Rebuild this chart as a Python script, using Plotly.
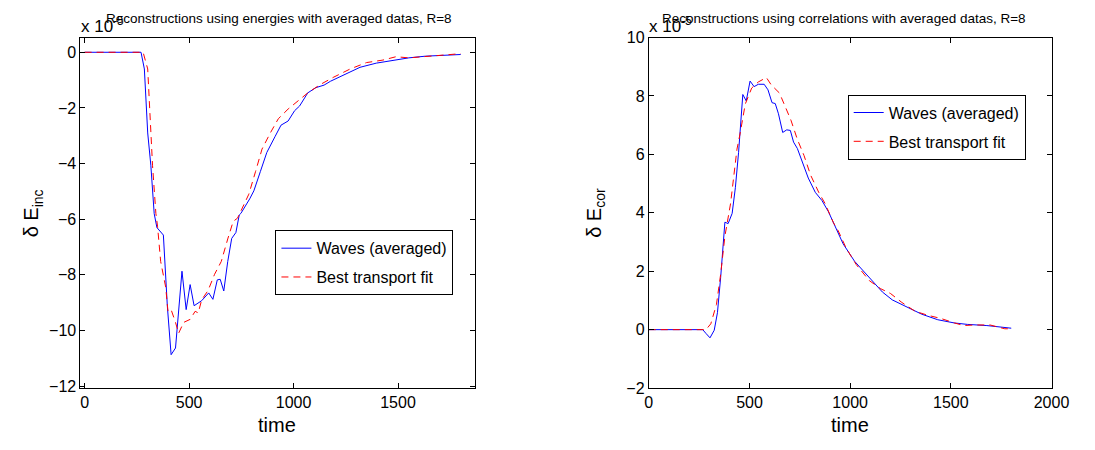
import plotly.graph_objects as go

# ---- data (units of 1e-5) ----
inc_wave_t = [0, 270, 286, 302, 317, 333, 346, 377, 396, 414, 435, 466, 486, 505, 524, 560, 594, 614, 635, 649,
              666, 685, 704, 724, 740, 748, 790, 810, 841, 872, 912, 940, 974, 1005, 1029, 1068, 1107, 1146,
              1177, 1240, 1318, 1396, 1475, 1552, 1631, 1709, 1800]
inc_wave_v = [0, 0, -0.6, -2.9, -4.06, -5.8, -6.3, -6.57, -9.13, -10.87, -10.63, -7.87, -9.25, -8.35, -9.11, -8.93,
              -8.65, -8.88, -8.18, -8.16, -8.58, -7.52, -6.69, -6.48, -5.85, -5.79, -5.27, -4.98, -4.29, -3.6,
              -3.02, -2.62, -2.47, -2.1, -1.93, -1.46, -1.27, -1.18, -1.04, -0.81, -0.54, -0.39, -0.28, -0.2,
              -0.14, -0.11, -0.08]
inc_fit_t = [0, 280, 302, 310, 325, 341, 349, 364, 388, 399, 414, 435, 450, 474, 505, 529, 544, 560, 591, 622,
             654, 685, 711, 732, 755, 786, 818, 849, 888, 927, 974, 1021, 1068, 1130, 1193, 1271, 1349, 1428,
             1490, 1552, 1631, 1709, 1800]
inc_fit_v = [0, 0, -0.6, -1.75, -4.06, -5.79, -6.25, -7.52, -8.44, -9.31, -9.25, -9.71, -10.1, -9.71, -9.6,
             -9.31, -9.37, -8.9, -8.56, -7.98, -7.52, -6.71, -6.08, -5.96, -5.6, -5.1, -4.29, -3.48, -2.91,
             -2.39, -2.04, -1.75, -1.46, -1.15, -0.89, -0.6, -0.37, -0.28, -0.16, -0.2, -0.16, -0.11, -0.05]

cor_wave_t = [0, 268, 284, 304, 325, 341, 357, 373, 378, 394, 414, 430, 446, 467, 484, 503, 523, 544, 573, 592,
              612, 628, 644, 665, 685, 703, 719, 738, 762, 792, 827, 860, 892, 924, 952, 965, 1022, 1095, 1160,
              1209, 1273, 1355, 1435, 1517, 1582, 1679, 1800]
cor_wave_v = [0, 0, -0.13, -0.28, -0.02, 0.58, 1.79, 3.21, 3.68, 3.63, 3.98, 4.86, 6.07, 8.05, 7.83, 8.51, 8.32,
              8.4, 8.4, 8.21, 7.77, 7.74, 7.39, 6.75, 6.84, 6.82, 6.42, 6.2, 5.74, 5.19, 4.7, 4.42, 4.04, 3.54,
              3.11, 2.94, 2.34, 1.79, 1.29, 1.02, 0.8, 0.53, 0.34, 0.23, 0.18, 0.14, 0.05]
cor_fit_t = [0, 284, 308, 336, 357, 378, 406, 422, 438, 454, 479, 511, 544, 584, 608, 649, 681, 706, 738, 771,
             803, 844, 876, 917, 941, 981, 1030, 1095, 1152, 1200, 1257, 1322, 1387, 1452, 1517, 1565, 1614,
             1695, 1768, 1800]
cor_fit_v = [0, 0, 0.2, 0.86, 1.9, 3.2, 4.31, 5.3, 6.18, 6.73, 7.72, 8.27, 8.48, 8.63, 8.38, 8.1, 7.6, 7.17,
             6.51, 5.96, 5.3, 4.7, 4.31, 3.66, 3.38, 2.78, 2.23, 1.68, 1.4, 1.24, 0.93, 0.63, 0.49, 0.38, 0.23,
             0.14, 0.16, 0.16, 0.03, 0.03]

left_xticks = [0, 500, 1000, 1500]
right_xticks = [0, 500, 1000, 1500, 2000]
left_yticks = [0, -2, -4, -6, -8, -10, -12]
right_yticks = [-2, 0, 2, 4, 6, 8, 10]

wave_name = "Waves (averaged)"
fit_name = "Best transport fit"

W, H = 1095, 450
FONT = "Liberation Sans, Arial, Helvetica, sans-serif"
BLUE = "#0000ff"
RED = "#ff0000"
DASH = "7px,5px"

fig = go.Figure()
fig.add_trace(go.Scatter(x=inc_wave_t, y=inc_wave_v, mode="lines", name=wave_name,
                         line=dict(color=BLUE, width=1), xaxis="x", yaxis="y",
                         legend="legend", legendgroup="a"))
fig.add_trace(go.Scatter(x=inc_fit_t, y=inc_fit_v, mode="lines", name=fit_name,
                         line=dict(color=RED, width=1, dash=DASH), xaxis="x", yaxis="y",
                         legend="legend", legendgroup="b"))
fig.add_trace(go.Scatter(x=cor_wave_t, y=cor_wave_v, mode="lines", name=wave_name,
                         line=dict(color=BLUE, width=1), xaxis="x2", yaxis="y2",
                         legend="legend2", legendgroup="c"))
fig.add_trace(go.Scatter(x=cor_fit_t, y=cor_fit_v, mode="lines", name=fit_name,
                         line=dict(color=RED, width=1, dash=DASH), xaxis="x2", yaxis="y2",
                         legend="legend2", legendgroup="d"))

def px_x(p):
    return p / W

def px_y(p):
    return 1 - p / H

ydom = [px_y(395), px_y(30.7)]
axcommon = dict(showgrid=False, zeroline=False, showline=True, linecolor="black", linewidth=1,
                mirror="ticks", ticks="inside", ticklen=5, tickcolor="black",
                tickfont=dict(family=FONT, size=16, color="black"))

legcommon = dict(bgcolor="white", bordercolor="black", borderwidth=1,
                 font=dict(family=FONT, size=16, color="black"),
                 xanchor="left", yanchor="top", tracegroupgap=5, itemwidth=30)

fig.update_layout(
    autosize=True, margin=dict(l=0, r=0, t=0, b=0),
    paper_bgcolor="white", plot_bgcolor="white",
    xaxis=dict(domain=[px_x(78), px_x(481)], range=[-20, 1870], tickvals=left_xticks,
               anchor="y", **axcommon),
    yaxis=dict(domain=ydom, range=[-12.07, 0.53], tickvals=left_yticks, anchor="x", **axcommon),
    xaxis2=dict(domain=[px_x(658), px_x(1069)], range=[0, 2000], tickvals=right_xticks,
                anchor="y2", **axcommon),
    yaxis2=dict(domain=ydom, range=[-2, 10], tickvals=right_yticks, anchor="x2", **axcommon),
    legend=dict(x=px_x(277), y=px_y(231), **legcommon),
    legend2=dict(x=px_x(861), y=px_y(90), **legcommon),
    showlegend=True,
)

def ann(text, x, y, size, angle=0, xanchor="center", yanchor="middle"):
    fig.add_annotation(text=text, x=px_x(x), y=px_y(y), xref="paper", yref="paper",
                       showarrow=False, textangle=angle, xanchor=xanchor, yanchor=yanchor,
                       font=dict(family=FONT, size=size, color="black"))

# titles
ann("Reconstructions using energies with averaged datas, R=8", 281, 11, 13.5)
ann("Reconstructions using correlations with averaged datas, R=8", 857, 11, 13.5)
# exponent labels
ann("x 10<sup>-5</sup>", 77, 18, 17, xanchor="left")
ann("x 10<sup>-5</sup>", 656, 18, 17, xanchor="left")
# x labels
ann("time", 279, 433, 20)
ann("time", 863, 433, 20)
# y labels
ann("δ E<sub>inc</sub>", 30, 213, 20, angle=-90)
ann("δ E<sub>cor</sub>", 604, 213, 20, angle=-90)

post = ("var s=document.createElement('style');"
        "s.innerHTML='html,body{margin:0;padding:0;overflow:hidden;}';"
        "document.head.appendChild(s);"
        "var gd=document.getElementById('{plot_id}');"
        "gd.style.position='fixed';gd.style.left='0';gd.style.top='0';"
        "Plotly.Plots.resize(gd);")

fig.write_html("out.html", config={"displayModeBar": False, "responsive": True},
               default_width="100vw", default_height="100vh", post_script=post)
